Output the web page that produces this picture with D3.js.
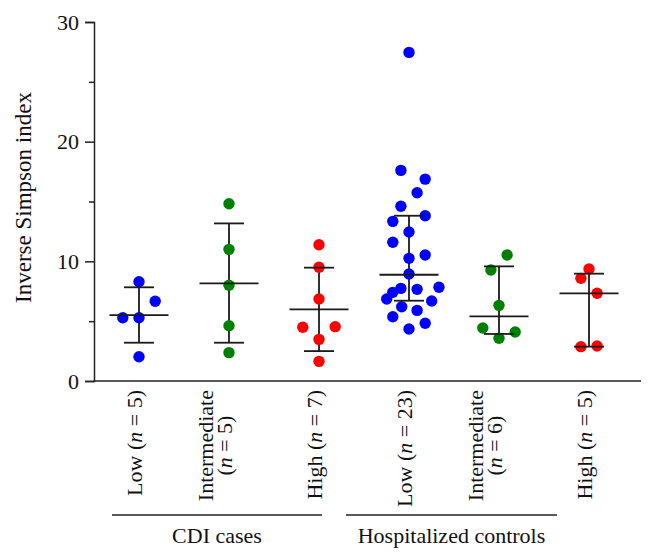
<!DOCTYPE html>
<html>
<head>
<meta charset="utf-8">
<script src="https://cdn.jsdelivr.net/npm/d3@7"></script>
<style>
  html, body { margin: 0; padding: 0; background: #fff; }
  svg { display: block; }
  text { font-family: "Liberation Serif", "Times New Roman", serif; fill: #111; }
</style>
</head>
<body>
<div id="chart"></div>
<script>
// ---- data ----
const categories = ["Low (n = 5)", "Intermediate|(n = 5)", "High (n = 7)", "Low (n = 23)", "Intermediate|(n = 6)", "High (n = 5)"];
const groupNames = ["CDI cases", "Hospitalized controls"];
const yTicks = [0, 10, 20, 30];
const yMinorTicks = [5, 15, 25];

const cdiLow = [8.30, 6.66, 5.29, 5.29, 2.03];
const cdiIntermediate = [14.81, 11.00, 8.00, 4.62, 2.37];
const cdiHigh = [11.39, 9.50, 6.85, 4.49, 4.54, 3.48, 1.64];
const hospLow = [27.46, 17.60, 16.87, 15.73, 14.60, 13.81, 13.34, 12.45, 11.59, 10.53, 10.25, 8.94, 7.83, 7.74, 7.66, 7.41, 6.85, 6.68, 6.21, 5.90, 5.37, 4.82, 4.34];
const hospIntermediate = [10.53, 9.27, 6.32, 4.43, 4.09, 3.57];
const hospHigh = [9.36, 8.58, 7.33, 2.87, 2.92];

// horizontal scatter slot of each point (in dot-step units), as laid out in the source
const cdiLowSlot = [0, 2, -2, 0, 0];
const cdiIntermediateSlot = [0, 0, 0, 0, 0];
const cdiHighSlot = [0, 0, 0, -2, 2, 0, 0];
const hospLowSlot = [0, -1, 2, 1, -1, 2, -2, 0, -2, 2, 0, 0, 3.7, -1, 1, -2, -2.75, 2.8, -0.9, 1, -2, 2, 0];
const hospIntermediateSlot = [1, -1, 0, -2, 2, 0];
const hospHighSlot = [0, -1, 1, -1, 1];

// summary line (centre) and bar ends
const centreValues = [5.51, 8.16, 5.99, 8.88, 5.40, 7.33];
const lowerValues = [3.20, 3.20, 2.50, 6.71, 3.93, 2.87];
const upperValues = [7.83, 13.17, 9.47, 13.81, 9.58, 8.97];

const levelColors = ["#0000ff", "#008000", "#ff0000"];

// ---- layout ----
const W = 648, H = 559;
const FS = 22;
const svg = d3.select("#chart").append("svg").attr("width", W).attr("height", H);

const x = d3.scaleBand().domain(categories).range([94, 634]).padding(0);
const y = d3.scaleLinear().domain([0, 30]).range([381, 22]);
const cx = c => x(c) + x.bandwidth() / 2;
const step = 8.1, r = 5.7;

const series = [
  [cdiLow, cdiLowSlot], [cdiIntermediate, cdiIntermediateSlot], [cdiHigh, cdiHighSlot],
  [hospLow, hospLowSlot], [hospIntermediate, hospIntermediateSlot], [hospHigh, hospHighSlot]
];

// y axis
const yAxis = d3.axisLeft(y).tickValues(yTicks).tickSize(9).tickPadding(6).tickFormat(d3.format("d"));
const gy = svg.append("g").attr("transform", "translate(94,0)").call(yAxis);
gy.select(".domain").attr("stroke", "#222").attr("stroke-width", 1.5);
gy.selectAll(".tick line").attr("stroke", "#222").attr("stroke-width", 1.5);
gy.selectAll(".tick text").attr("font-size", FS).attr("font-family", "Liberation Serif, serif").attr("fill", "#111");
const yMinor = d3.axisLeft(y).tickValues(yMinorTicks).tickSize(5).tickFormat("");
const gym = svg.append("g").attr("transform", "translate(94,0)").call(yMinor);
gym.select(".domain").remove();
gym.selectAll(".tick line").attr("stroke", "#222").attr("stroke-width", 1.5);

// x axis line
svg.append("line").attr("x1", 93.3).attr("x2", 641).attr("y1", y(0)).attr("y2", y(0))
  .attr("stroke", "#222").attr("stroke-width", 1.5);

// y title
svg.append("text")
  .attr("transform", `translate(31,${(y(0) + y(30)) / 2 - 4}) rotate(-90)`)
  .attr("text-anchor", "middle").attr("font-size", FS + 1)
  .text("Inverse Simpson index");

// dots + bars
series.forEach(([vals, slots], i) => {
  const c = categories[i];
  const xc = cx(c);
  const g = svg.append("g");
  g.append("line").attr("x1", xc).attr("x2", xc).attr("y1", y(lowerValues[i])).attr("y2", y(upperValues[i]))
    .attr("stroke", "#1a1a1a").attr("stroke-width", 1.8);
  g.selectAll("circle").data(vals).join("circle")
    .attr("cx", (d, j) => xc + slots[j] * step)
    .attr("cy", d => y(d))
    .attr("r", r)
    .attr("fill", levelColors[i % 3]);
  g.append("line").attr("x1", xc - 29.5).attr("x2", xc + 29.5).attr("y1", y(centreValues[i])).attr("y2", y(centreValues[i]))
    .attr("stroke", "#1a1a1a").attr("stroke-width", 1.8);
  [lowerValues[i], upperValues[i]].forEach(v => {
    g.append("line").attr("x1", xc - 15).attr("x2", xc + 15).attr("y1", y(v)).attr("y2", y(v))
      .attr("stroke", "#1a1a1a").attr("stroke-width", 1.8);
  });
});

// category labels (rotated)
function addLabelLine(sel, str) {
  const m = str.match(/^(.*\()n( = .*)$/);
  if (m) {
    sel.append("tspan").text(m[1]);
    sel.append("tspan").attr("font-style", "italic").text("n");
    sel.append("tspan").text(m[2]);
  } else sel.text(str);
}
const labelTop = 390, lineGap = 19;
categories.forEach(c => {
  const lines = c.split("|");
  const xc = cx(c);
  const base = xc + 3;
  if (lines.length === 1) {
    const t = svg.append("text").attr("font-size", FS).attr("text-anchor", "end")
      .attr("transform", `translate(${base},${labelTop}) rotate(-90)`);
    addLabelLine(t, lines[0]);
  } else {
    const t1 = svg.append("text").attr("font-size", FS).attr("text-anchor", "end")
      .attr("transform", `translate(${base - lineGap},${labelTop}) rotate(-90)`);
    addLabelLine(t1, lines[0]);
    const w1 = t1.node().getComputedTextLength();
    const t2 = svg.append("text").attr("font-size", FS).attr("text-anchor", "middle")
      .attr("transform", `translate(${base},${labelTop + w1 / 2}) rotate(-90)`);
    addLabelLine(t2, lines[1]);
  }
});

// group brackets
const groupSpans = [[cx(categories[0]) - 27, cx(categories[2]) + 3], [cx(categories[3]) - 63, cx(categories[5]) - 32]];
groupNames.forEach((g, i) => {
  const [a, b] = groupSpans[i];
  svg.append("line").attr("x1", a).attr("x2", b).attr("y1", 515).attr("y2", 515)
    .attr("stroke", "#222").attr("stroke-width", 1.5);
  svg.append("text").attr("x", (a + b) / 2).attr("y", 543).attr("text-anchor", "middle")
    .attr("font-size", FS).text(g);
});
</script>
</body>
</html>
